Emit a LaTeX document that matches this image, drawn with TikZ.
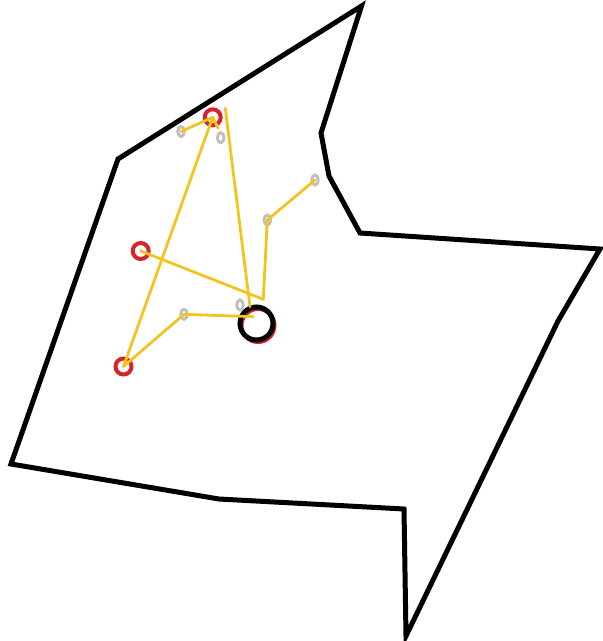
\documentclass[tikz,border=0pt]{standalone}
\usetikzlibrary{shapes.geometric}
\definecolor{linkyellow}{RGB}{242,196,32}
\definecolor{ringred}{RGB}{214,36,44}
\definecolor{ringgray}{RGB}{192,192,192}
\begin{document}
\begin{tikzpicture}[x=1pt,y=-1pt,
  outline/.style={line width=5pt,line join=miter,black},
  redring/.style={circle,draw=ringred,line width=4pt,minimum size=16pt,inner sep=0pt},
  grayring/.style={ellipse,draw=ringgray,line width=3pt,minimum width=6.5pt,minimum height=10pt,inner sep=0pt},
  blackring/.style={circle,draw=black,line width=5pt,minimum size=33pt,inner sep=0pt},
  link/.style={linkyellow,line width=2.8pt,line cap=round}]
\useasboundingbox (0,0) rectangle (603,641);
% outer outline
\draw[outline] (361.5,6) -- (321,133) -- (329,176) -- (360,233) -- (600,249)
  -- (558,321) -- (406,636) -- (404,509) -- (219,499) -- (11,464) -- (118,159) -- cycle;
% rings
\node[redring] (rtop) at (212.7,117.3) {};
\node[redring] (rmid) at (140.7,251) {};
\node[redring] (rbot) at (123.5,366.5) {};
\node[circle,draw=ringred,line width=4pt,minimum size=33pt,inner sep=0pt] (bshadow) at (258,325.5) {};
\node[blackring] (hub) at (256.5,323.5) {};
\node[grayring] (g1) at (181,131.5) {};
\node[grayring] (g2) at (220.7,137.7) {};
\node[grayring] (g3) at (315,180) {};
\node[grayring] (g4) at (267.3,220) {};
\node[grayring] (g5) at (184,314.3) {};
\node[grayring] (g6) at (240,305) {};
% free ends
\coordinate (ttop) at (225.3,108.3);
\coordinate (hubA) at (250,306.7);
\coordinate (hubB) at (263.3,299.3);
\coordinate (hubC) at (253.3,316.7);
\coordinate (g2in) at (218,128);
% links
\draw[link] (g1.center) -- (rtop.center);
\draw[link] (rtop.center) -- (g2in);
\draw[link] (ttop) -- (hubA);
\draw[link] (rtop.center) -- (rbot.center);
\draw[link] (rbot.center) -- (g5.center);
\draw[link] (g5.center) -- (hubC);
\draw[link] (rmid.center) -- (hubB);
\draw[link] (hubB) -- (g4.center);
\draw[link] (g4.center) -- (g3.center);
\end{tikzpicture}
\end{document}
